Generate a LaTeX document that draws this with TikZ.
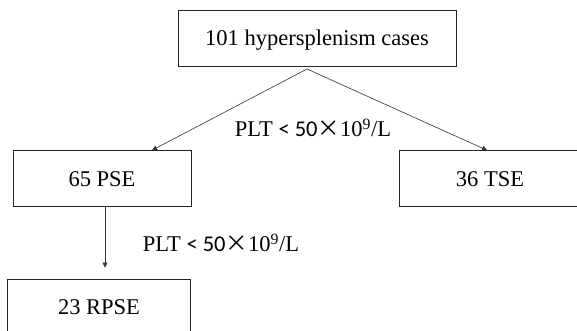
\documentclass[tikz,border=0pt]{standalone}
\usepackage{fontspec}
\setmainfont{Liberation Serif}
\newfontfamily\sansnum{Carlito}
\newfontfamily\cjk{Noto Sans CJK SC}
\usetikzlibrary{arrows.meta}
\newcommand{\pltlabel}{PLT {\sansnum < 50}{\cjk ×}10\textsuperscript{9}/L}
\begin{document}
\begin{tikzpicture}[x=1pt,y=-1pt,
  font=\fontsize{22.5}{27}\selectfont,
  box/.style={draw=black!85, line width=0.9pt, minimum height=56pt, inner sep=0pt, text height=15pt, text depth=0pt},
  conn/.style={draw=black!80, line width=0.6pt, -{Triangle[length=5pt,width=5pt]}},
  lbl/.style={anchor=base, inner sep=0pt}]
\useasboundingbox (0,0) rectangle (577,331);
\node[box, minimum width=278pt] (top) at (317,38) {101 hypersplenism cases};
\node[box, minimum width=178pt] (pse) at (102,178.7) {65 PSE};
\node[box, minimum width=182pt] (tse) at (490,178.7) {36 TSE};
\node[box, minimum width=183.4pt] (rpse) at (99,307) {23 RPSE};
\coordinate (apex) at (307,69);
\draw[conn] (apex) -- ([xshift=50pt]pse.north);
\draw[conn] (apex) -- ([xshift=-3pt]tse.north);
\draw[conn] ([xshift=3pt]pse.south) -- ([xshift=6pt,yshift=11pt]rpse.north);
\node[lbl] (l1) at (313,136.7) {\pltlabel};
\node[lbl] (l2) at (221,251.7) {\pltlabel};
\end{tikzpicture}
\end{document}
